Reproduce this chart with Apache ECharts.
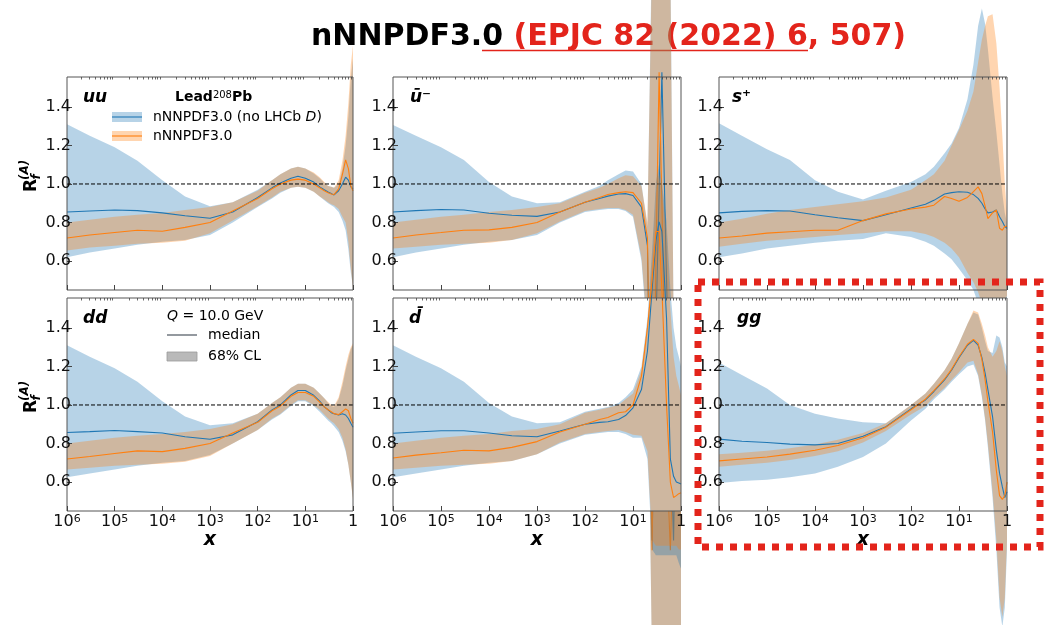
<!DOCTYPE html>
<html>
<head>
<meta charset="utf-8">
<script src="https://cdn.jsdelivr.net/npm/echarts@6/dist/echarts.min.js"></script>
<style>
  html, body { margin: 0; padding: 0; background: #fff; }
  #chart { width: 1044px; height: 625px; }
</style>
</head>
<body>
<div id="chart"></div>
<script>
// Shared momentum-fraction grid for every panel
const X = [1e-6, 3e-6, 1e-5, 3e-5, 1e-4, 3e-4, 1e-3, 3e-3, 1e-2, 2e-2, 3e-2, 5e-2, 7e-2,
           0.1, 0.15, 0.2, 0.25, 0.3, 0.35, 0.4, 0.5, 0.6, 0.7, 0.8, 0.9, 1.0];
const X_DECADES = [1e-6, 1e-5, 1e-4, 1e-3, 1e-2, 1e-1, 1];
const Y_TICKS = [0.6, 0.8, 1.0, 1.2, 1.4];

// u + ubar
const uuBlueMed   = [0.855, 0.86, 0.865, 0.862, 0.85, 0.835, 0.822, 0.855, 0.93, 0.98, 1.005, 1.03, 1.04, 1.03, 1.01, 0.985, 0.97, 0.958, 0.95, 0.943, 0.965, 1.0, 1.035, 1.02, 0.985, 0.975];
const uuBlueLo    = [0.62, 0.645, 0.665, 0.685, 0.70, 0.71, 0.735, 0.80, 0.88, 0.925, 0.955, 0.98, 0.985, 0.98, 0.96, 0.935, 0.915, 0.90, 0.89, 0.88, 0.855, 0.81, 0.76, 0.66, 0.54, 0.47];
const uuBlueHi    = [1.31, 1.25, 1.19, 1.12, 1.02, 0.935, 0.885, 0.905, 0.97, 1.02, 1.05, 1.08, 1.09, 1.08, 1.055, 1.03, 1.005, 0.99, 0.985, 0.98, 1.0, 1.08, 1.2, 1.35, 1.55, 1.65];
const uuOrangeMed = [0.72, 0.735, 0.748, 0.76, 0.755, 0.775, 0.80, 0.86, 0.925, 0.975, 1.0, 1.02, 1.025, 1.02, 1.0, 0.98, 0.965, 0.955, 0.948, 0.945, 0.975, 1.05, 1.125, 1.08, 0.99, 0.965];
const uuOrangeLo  = [0.655, 0.67, 0.68, 0.69, 0.695, 0.705, 0.745, 0.81, 0.885, 0.93, 0.96, 0.98, 0.985, 0.98, 0.96, 0.935, 0.92, 0.905, 0.895, 0.89, 0.87, 0.83, 0.80, 0.70, 0.56, 0.46];
const uuOrangeHi  = [0.80, 0.815, 0.83, 0.84, 0.85, 0.865, 0.88, 0.905, 0.965, 1.02, 1.05, 1.08, 1.09, 1.08, 1.06, 1.035, 1.01, 0.99, 0.985, 0.98, 1.02, 1.12, 1.25, 1.42, 1.62, 1.72];

// u-minus (ubar panel)
const ubBlueMed   = [0.855, 0.862, 0.868, 0.865, 0.848, 0.838, 0.832, 0.855, 0.905, 0.925, 0.937, 0.948, 0.95, 0.94, 0.88, 0.68, -0.85, 0.25, 0.95, 1.58, 0.5, -0.3, -0.85, 0.0, 0.1, 0.1];
const ubBlueLo    = [0.62, 0.645, 0.665, 0.685, 0.70, 0.71, 0.735, 0.80, 0.855, 0.865, 0.87, 0.87, 0.86, 0.83, 0.60, 0.20, -1.5, -1.5, -1.5, -1.5, -1.5, -1.5, -1.5, -1.5, -1.5, -1.5];
const ubBlueHi    = [1.306, 1.25, 1.19, 1.125, 1.01, 0.935, 0.90, 0.905, 0.96, 0.99, 1.02, 1.05, 1.07, 1.065, 1.0, 0.78, 2.3, 2.3, 2.3, 2.3, 2.3, 2.2, 0.3, 0.3, 0.3, 0.3];
const ubOrangeMed = [0.72, 0.735, 0.748, 0.76, 0.762, 0.775, 0.80, 0.855, 0.905, 0.93, 0.945, 0.955, 0.96, 0.955, 0.90, 0.72, -0.9, 0.6, 1.58, 0.9, -0.4, -0.9, -0.3, 0.0, 0.1, 0.1];
const ubOrangeLo  = [0.665, 0.675, 0.685, 0.69, 0.695, 0.71, 0.745, 0.805, 0.86, 0.87, 0.875, 0.875, 0.865, 0.84, 0.62, 0.25, -1.5, -1.5, -1.5, -1.5, -1.5, -1.5, -1.5, -1.5, -1.5, -1.5];
const ubOrangeHi  = [0.80, 0.815, 0.83, 0.84, 0.855, 0.865, 0.88, 0.90, 0.955, 0.98, 1.0, 1.03, 1.045, 1.04, 0.99, 0.80, 2.2, 2.2, 2.2, 2.2, 2.2, 2.1, 0.3, 0.3, 0.3, 0.3];

// s-plus
const spBlueMed   = [0.85, 0.858, 0.862, 0.86, 0.84, 0.825, 0.81, 0.84, 0.875, 0.895, 0.915, 0.948, 0.955, 0.96, 0.957, 0.945, 0.925, 0.90, 0.87, 0.85, 0.855, 0.865, 0.83, 0.805, 0.78, 0.77];
const spBlueLo    = [0.62, 0.64, 0.665, 0.68, 0.695, 0.705, 0.715, 0.745, 0.725, 0.70, 0.68, 0.64, 0.61, 0.56, 0.50, 0.45, 0.38, 0.30, 0.22, 0.18, 0.20, 0.25, 0.30, 0.35, 0.38, 0.40];
const spBlueHi    = [1.315, 1.25, 1.18, 1.125, 1.02, 0.96, 0.92, 0.965, 1.01, 1.05, 1.09, 1.16, 1.21, 1.29, 1.44, 1.62, 1.82, 1.91, 1.83, 1.70, 1.45, 1.27, 1.10, 0.95, 0.85, 0.80];
const spOrangeMed = [0.72, 0.73, 0.745, 0.752, 0.76, 0.76, 0.81, 0.845, 0.87, 0.88, 0.89, 0.935, 0.925, 0.91, 0.93, 0.96, 0.985, 0.95, 0.885, 0.82, 0.85, 0.865, 0.77, 0.76, 0.78, 0.78];
const spOrangeLo  = [0.675, 0.69, 0.705, 0.715, 0.725, 0.735, 0.745, 0.755, 0.755, 0.74, 0.725, 0.695, 0.665, 0.62, 0.54, 0.49, 0.44, 0.38, 0.33, 0.30, 0.30, 0.33, 0.36, 0.38, 0.40, 0.42];
const spOrangeHi  = [0.80, 0.82, 0.845, 0.865, 0.88, 0.895, 0.91, 0.93, 0.97, 1.02, 1.05, 1.12, 1.20, 1.28, 1.38, 1.48, 1.63, 1.75, 1.82, 1.87, 1.88, 1.73, 1.50, 1.25, 1.00, 0.85];

// d + dbar
const ddBlueMed   = [0.857, 0.862, 0.868, 0.862, 0.855, 0.835, 0.822, 0.845, 0.913, 0.974, 1.0, 1.052, 1.075, 1.075, 1.05, 1.02, 0.99, 0.975, 0.96, 0.955, 0.948, 0.955, 0.948, 0.93, 0.905, 0.885];
const ddBlueLo    = [0.625, 0.645, 0.665, 0.685, 0.70, 0.71, 0.74, 0.80, 0.87, 0.925, 0.95, 0.995, 1.02, 1.02, 0.995, 0.965, 0.94, 0.92, 0.905, 0.89, 0.86, 0.815, 0.76, 0.69, 0.60, 0.52];
const ddBlueHi    = [1.31, 1.25, 1.19, 1.12, 1.02, 0.94, 0.895, 0.905, 0.955, 1.01, 1.04, 1.09, 1.11, 1.11, 1.09, 1.06, 1.035, 1.01, 0.995, 0.99, 1.03, 1.10, 1.18, 1.24, 1.29, 1.31];
const ddOrangeMed = [0.72, 0.733, 0.748, 0.762, 0.758, 0.775, 0.80, 0.855, 0.91, 0.97, 0.995, 1.045, 1.065, 1.065, 1.045, 1.015, 0.99, 0.975, 0.965, 0.955, 0.95, 0.965, 0.98, 0.97, 0.93, 0.905];
const ddOrangeLo  = [0.665, 0.675, 0.685, 0.69, 0.695, 0.705, 0.735, 0.80, 0.87, 0.93, 0.955, 1.0, 1.025, 1.025, 1.0, 0.975, 0.95, 0.93, 0.915, 0.905, 0.875, 0.83, 0.77, 0.69, 0.60, 0.51];
const ddOrangeHi  = [0.80, 0.815, 0.83, 0.84, 0.85, 0.86, 0.875, 0.90, 0.955, 1.01, 1.04, 1.09, 1.11, 1.11, 1.09, 1.06, 1.035, 1.015, 1.0, 0.995, 1.04, 1.12, 1.20, 1.26, 1.30, 1.32];

// dbar
const dbBlueMed   = [0.853, 0.86, 0.866, 0.866, 0.855, 0.84, 0.835, 0.865, 0.90, 0.91, 0.913, 0.925, 0.945, 0.985, 1.08, 1.28, 1.6, 1.85, 1.95, 1.9, 1.45, 0.72, 0.63, 0.60, 0.595, 0.59];
const dbBlueLo    = [0.625, 0.645, 0.665, 0.685, 0.70, 0.71, 0.745, 0.80, 0.845, 0.855, 0.86, 0.86, 0.85, 0.83, 0.83, 0.72, 0.25, 0.22, 0.22, 0.22, 0.22, 0.22, 0.22, 0.22, 0.18, 0.15];
const dbBlueHi    = [1.31, 1.25, 1.19, 1.12, 1.01, 0.94, 0.905, 0.91, 0.965, 0.98, 0.99, 1.01, 1.04, 1.08, 1.20, 1.45, 1.80, 2.15, 2.25, 2.15, 1.95, 1.60, 1.40, 1.30, 1.25, 1.20];
const dbOrangeMed = [0.725, 0.74, 0.752, 0.765, 0.762, 0.78, 0.81, 0.86, 0.90, 0.925, 0.935, 0.96, 0.965, 1.0, 1.15, 1.40, 1.65, 1.90, 1.90, 1.60, 1.00, 0.60, 0.52, 0.53, 0.54, 0.545];
const dbOrangeLo  = [0.665, 0.675, 0.685, 0.69, 0.695, 0.71, 0.745, 0.805, 0.85, 0.86, 0.865, 0.87, 0.86, 0.845, 0.84, 0.76, 0.30, 0.27, 0.27, 0.27, 0.27, 0.27, 0.27, 0.27, 0.25, 0.25];
const dbOrangeHi  = [0.80, 0.815, 0.83, 0.84, 0.85, 0.865, 0.875, 0.90, 0.96, 0.975, 0.985, 1.0, 1.03, 1.06, 1.18, 1.42, 1.75, 2.10, 2.20, 2.10, 1.90, 1.50, 1.25, 1.15, 1.10, 1.05];

// gluon
const ggBlueMed   = [0.823, 0.812, 0.805, 0.797, 0.793, 0.80, 0.838, 0.887, 0.98, 1.026, 1.07, 1.13, 1.18, 1.245, 1.31, 1.335, 1.31, 1.245, 1.165, 1.08, 0.94, 0.766, 0.645, 0.575, 0.52, 0.55];
const ggBlueLo    = [0.595, 0.605, 0.612, 0.625, 0.645, 0.68, 0.73, 0.80, 0.92, 0.98, 1.03, 1.08, 1.12, 1.16, 1.20, 1.21, 1.15, 1.04, 0.92, 0.78, 0.52, 0.25, -0.05, -0.15, -0.05, 0.25];
const ggBlueHi    = [1.22, 1.155, 1.085, 1.0, 0.955, 0.93, 0.91, 0.905, 1.0, 1.06, 1.11, 1.18, 1.24, 1.32, 1.42, 1.48, 1.47, 1.40, 1.33, 1.28, 1.27, 1.36, 1.35, 1.30, 1.22, 1.20];
const ggOrangeMed = [0.71, 0.72, 0.73, 0.745, 0.765, 0.79, 0.83, 0.885, 0.975, 1.03, 1.075, 1.135, 1.185, 1.25, 1.315, 1.34, 1.32, 1.235, 1.13, 1.02, 0.86, 0.66, 0.53, 0.51, 0.53, 0.60];
const ggOrangeLo  = [0.68, 0.69, 0.70, 0.715, 0.735, 0.76, 0.805, 0.865, 0.95, 0.995, 1.04, 1.09, 1.13, 1.17, 1.22, 1.23, 1.16, 1.05, 0.93, 0.80, 0.55, 0.30, 0.0, -0.1, 0.0, 0.30];
const ggOrangeHi  = [0.745, 0.752, 0.762, 0.775, 0.795, 0.82, 0.855, 0.905, 1.0, 1.06, 1.11, 1.18, 1.24, 1.32, 1.42, 1.49, 1.48, 1.42, 1.36, 1.30, 1.25, 1.28, 1.33, 1.28, 1.20, 1.15];

const BLUE = '#1f77b4', ORANGE = '#ff7f0e';
const BLUE_FILL = 'rgba(31,119,180,0.32)', ORANGE_FILL = 'rgba(255,127,14,0.33)';
const RED = '#e3241b';
const FONT = '"DejaVu Sans", "Liberation Sans", sans-serif';

// minor ticks of the log axis: 2..9 times each decade
const X_MINOR = [];
for (let e = -6; e < 0; e++) for (let m = 2; m <= 9; m++) X_MINOR.push(+(m * Math.pow(10, e)).toPrecision(3));

const PANELS = [
  { left: 67,  top: 77,  width: 286, bottom: false, label: 'uu', lx: 83,
    d: [uuBlueLo, uuBlueHi, uuBlueMed, uuOrangeLo, uuOrangeHi, uuOrangeMed] },
  { left: 393, top: 77,  width: 288, bottom: false, label: 'ū⁻', lx: 410,
    d: [ubBlueLo, ubBlueHi, ubBlueMed, ubOrangeLo, ubOrangeHi, ubOrangeMed] },
  { left: 719, top: 77,  width: 288, bottom: false, label: 's⁺', lx: 732,
    d: [spBlueLo, spBlueHi, spBlueMed, spOrangeLo, spOrangeHi, spOrangeMed] },
  { left: 67,  top: 298, width: 286, bottom: true,  label: 'dd', lx: 83,
    d: [ddBlueLo, ddBlueHi, ddBlueMed, ddOrangeLo, ddOrangeHi, ddOrangeMed] },
  { left: 393, top: 298, width: 288, bottom: true,  label: 'd̄', lx: 409,
    d: [dbBlueLo, dbBlueHi, dbBlueMed, dbOrangeLo, dbOrangeHi, dbOrangeMed] },
  { left: 719, top: 298, width: 288, bottom: true,  label: 'gg', lx: 737,
    d: [ggBlueLo, ggBlueHi, ggBlueMed, ggOrangeLo, ggOrangeHi, ggOrangeMed] }
];
const PANEL_H = 213;

const grid = [], xAxis = [], yAxis = [], series = [];

function bandSeries(ax, lo, hi, fill, z) {
  return {
    type: 'custom', ...ax, z, silent: true, clip: false,
    data: [[X[0], lo[0]]],
    renderItem: (params, api) => {
      const pts = [];
      for (let k = 0; k < X.length; k++) pts.push(api.coord([X[k], hi[k]]));
      for (let k = X.length - 1; k >= 0; k--) pts.push(api.coord([X[k], lo[k]]));
      return { type: 'polygon', shape: { points: pts }, style: { fill } };
    }
  };
}
function medianSeries(ax, vals, color, z) {
  return {
    type: 'line', ...ax, z, silent: true, clip: false, symbol: 'none',
    data: X.map((x, k) => [x, vals[k]]),
    lineStyle: { color, width: 1.1 }
  };
}

PANELS.forEach((p, i) => {
  const base = 10 * (i + 1);
  grid.push({ left: p.left, top: p.top, width: p.width, height: PANEL_H, show: true,
              borderColor: '#555', borderWidth: 1, backgroundColor: 'transparent', z: base + 6 });
  xAxis.push({
    type: 'log', logBase: 10, gridIndex: i, min: 1e-6, max: 1, z: base + 6,
    axisLine: { show: false }, splitLine: { show: false },
    axisTick: { show: true, inside: true, length: 5, customValues: X_DECADES, lineStyle: { color: '#444', width: 1 } },
    axisLabel: {
      show: p.bottom, customValues: X_DECADES, margin: 3, color: '#111', fontFamily: FONT, fontSize: 16,
      formatter: v => {
        const e = Math.round(Math.log10(v));
        return e === 0 ? '{b|1}' : '{b|10}{s|' + Math.abs(e) + '}';
      },
      rich: {
        b: { fontFamily: FONT, fontSize: 16, color: '#111' },
        s: { fontFamily: FONT, fontSize: 11, color: '#111', verticalAlign: 'top' }
      }
    },
    name: p.bottom ? 'x' : '', nameLocation: 'middle', nameGap: 14,
    nameTextStyle: { fontFamily: FONT, fontSize: 19, fontWeight: 'bold', fontStyle: 'italic', color: '#000' }
  });
  xAxis.push({
    type: 'log', logBase: 10, gridIndex: i, min: 1e-6, max: 1, z: base + 6,
    axisLine: { show: false }, splitLine: { show: false }, axisLabel: { show: false },
    axisTick: { show: true, inside: true, length: 2.5, customValues: X_MINOR, lineStyle: { color: '#444', width: 0.8 } }
  });
  yAxis.push({
    type: 'value', gridIndex: i, min: 0.45, max: 1.555, z: base + 6,
    axisLine: { show: false }, splitLine: { show: false },
    axisTick: { show: true, inside: true, length: 5, customValues: Y_TICKS, lineStyle: { color: '#444' } },
    axisLabel: { customValues: Y_TICKS, margin: -4, color: '#111', fontFamily: FONT, fontSize: 16,
                 formatter: v => v.toFixed(1) }
  });

  const ax = { xAxisIndex: 2 * i, yAxisIndex: i };
  const [bLo, bHi, bMed, oLo, oHi, oMed] = p.d;
  // opaque plot area so later panels sit above earlier overflow
  series.push({
    type: 'custom', ...ax, z: base, silent: true, data: [[1e-3, 1]],
    renderItem: (params) => ({
      type: 'rect',
      shape: { x: params.coordSys.x, y: params.coordSys.y, width: params.coordSys.width, height: params.coordSys.height },
      style: { fill: '#fff' }
    })
  });
  series.push(bandSeries(ax, bLo, bHi, BLUE_FILL, base + 1));
  series.push(bandSeries(ax, oLo, oHi, ORANGE_FILL, base + 2));
  series.push(medianSeries(ax, bMed, BLUE, base + 3));
  series.push(medianSeries(ax, oMed, ORANGE, base + 4));
  series.push({
    type: 'line', ...ax, z: base + 5, silent: true, symbol: 'none',
    data: [[1e-6, 1], [1, 1]],
    lineStyle: { color: '#000', width: 1, type: [4, 2] }
  });
});

function txt(x, y, text, font, extra) {
  return Object.assign({
    type: 'text', x, y, z: 150, silent: true,
    style: Object.assign({ text, font, fill: '#000', textAlign: 'left', textVerticalAlign: 'middle',
                           align: 'left', verticalAlign: 'middle' }, extra || {})
  });
}

function yTitle(cy) {
  return {
    type: 'group', x: 31.5, y: cy, rotation: Math.PI / 2, z: 150, silent: true,
    children: [
      txt(0, 0, 'R', 'bold 17px ' + FONT),
      txt(12.5, 5, 'f', 'italic bold 12px ' + FONT),
      txt(12, -7, '(A)', 'italic bold 12px ' + FONT)
    ]
  };
}

const graphic = [
  // heading
  {
    type: 'text', x: 311, y: 37, z: 1, silent: true,
    style: {
      text: '{k|nNNPDF3.0} {r|(EPJC 82 (2022) 6, 507)}',
      font: 'bold 30px ' + FONT, textVerticalAlign: 'middle', verticalAlign: 'middle',
      rich: {
        k: { font: 'bold 30px ' + FONT, fill: '#000', color: '#000' },
        r: { font: 'bold 30px ' + FONT, fill: RED, color: RED }
      }
    }
  },
  { type: 'line', z: 1, silent: true, shape: { x1: 482, y1: 50.5, x2: 808, y2: 50.5 }, style: { stroke: RED, lineWidth: 1.5 } },

  yTitle(192),
  yTitle(413),

  // legend: datasets
  {
    type: 'text', x: 175, y: 97, z: 150, silent: true,
    style: {
      text: '{b|Lead}{s|208}{b|Pb}', textVerticalAlign: 'middle', verticalAlign: 'middle',
      rich: { b: { font: 'bold 14px ' + FONT, fill: '#000' }, s: { font: '10px ' + FONT, fill: '#000', verticalAlign: 'top' } }
    }
  },
  { type: 'rect', z: 150, silent: true, shape: { x: 112, y: 112, width: 30, height: 10 }, style: { fill: BLUE_FILL } },
  { type: 'line', z: 151, silent: true, shape: { x1: 112, y1: 117, x2: 142, y2: 117 }, style: { stroke: BLUE, lineWidth: 1.1 } },
  {
    type: 'text', x: 153, y: 117, z: 150, silent: true,
    style: {
      text: '{n|nNNPDF3.0 (no LHCb }{i|D}{n|)}', textVerticalAlign: 'middle', verticalAlign: 'middle',
      rich: { n: { font: '14px ' + FONT, fill: '#000' }, i: { font: 'italic 14px ' + FONT, fill: '#000' } }
    }
  },
  { type: 'rect', z: 150, silent: true, shape: { x: 112, y: 131, width: 30, height: 10 }, style: { fill: ORANGE_FILL } },
  { type: 'line', z: 151, silent: true, shape: { x1: 112, y1: 136, x2: 142, y2: 136 }, style: { stroke: ORANGE, lineWidth: 1.1 } },
  txt(153, 136, 'nNNPDF3.0', '14px ' + FONT),

  // legend: scale and styles
  {
    type: 'text', x: 167, y: 316, z: 150, silent: true,
    style: {
      text: '{i|Q} = 10.0 GeV', font: '14px ' + FONT, textVerticalAlign: 'middle', verticalAlign: 'middle',
      rich: { i: { font: 'italic 14px ' + FONT, fill: '#000' } }
    }
  },
  { type: 'line', z: 150, silent: true, shape: { x1: 167, y1: 335, x2: 197, y2: 335 }, style: { stroke: '#3c4650', lineWidth: 1.1 } },
  txt(208, 335, 'median', '14px ' + FONT),
  { type: 'rect', z: 150, silent: true, shape: { x: 167, y: 352, width: 30, height: 9 }, style: { fill: '#b9b9b9', stroke: '#999', lineWidth: 0.8 } },
  txt(208, 356.5, '68% CL', '14px ' + FONT),

  // dotted frame around the gluon panel
  {
    type: 'rect', z: 300, silent: true,
    shape: { x: 698, y: 282, width: 342, height: 265 },
    style: { fill: 'none', stroke: RED, lineWidth: 7, lineDash: [7, 7] }
  }
];

// flavour tags in each panel
PANELS.forEach(p => {
  graphic.push(txt(p.lx, p.top + 21, p.label, 'italic bold 17px ' + FONT));
});

const chart = echarts.init(document.getElementById('chart'), null, { renderer: 'canvas' });
chart.setOption({
  animation: false,
  backgroundColor: '#fff',
  grid, xAxis, yAxis, series, graphic
});
</script>
</body>
</html>
